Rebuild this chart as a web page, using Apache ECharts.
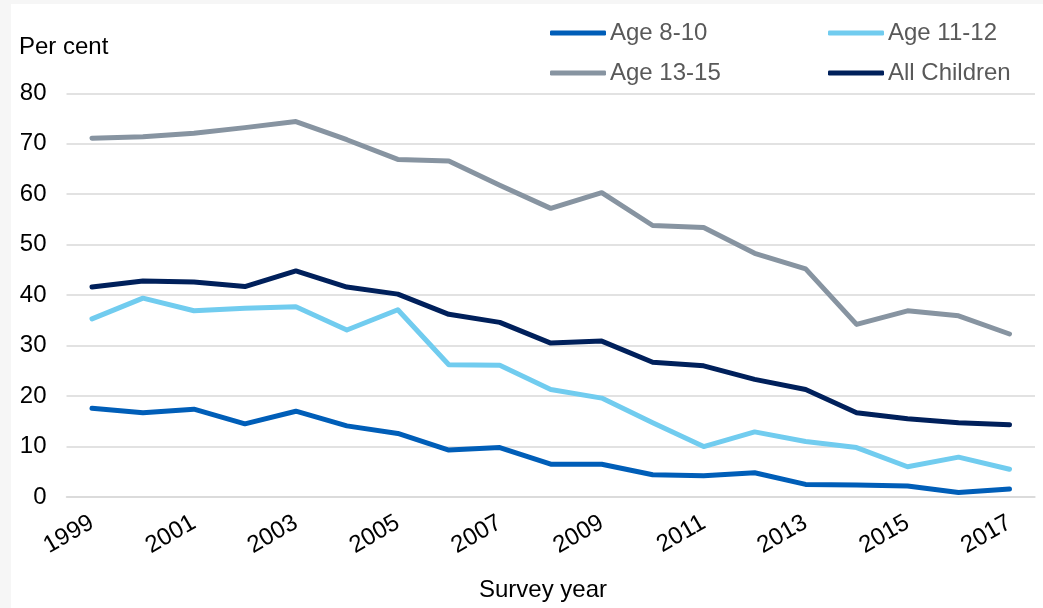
<!DOCTYPE html>
<html>
<head>
<meta charset="utf-8">
<script src="https://cdn.jsdelivr.net/npm/echarts@6/dist/echarts.min.js"></script>
<style>
html,body{margin:0;padding:0;background:#f6f6f6;width:1043px;height:608px;overflow:hidden;}
#chart{position:absolute;left:11px;top:4px;width:1032px;height:604px;background:#ffffff;}
</style>
</head>
<body>
<div id="chart"></div>
<script>
var years = ['1999','2000','2001','2002','2003','2004','2005','2006','2007','2008','2009','2010','2011','2012','2013','2014','2015','2016','2017'];
var age8to10 = [17.6,16.7,17.4,14.5,17.0,14.1,12.6,9.3,9.8,6.5,6.5,4.4,4.2,4.8,2.5,2.4,2.2,0.9,1.6];
var age11to12 = [35.3,39.4,36.9,37.4,37.7,33.1,37.1,26.2,26.1,21.3,19.6,14.7,10.0,12.9,11.0,9.8,6.0,7.9,5.5];
var age13to15 = [71.1,71.4,72.1,73.2,74.4,70.8,66.9,66.6,61.8,57.2,60.3,53.8,53.4,48.3,45.2,34.2,36.9,35.9,32.3];
var allChildren = [41.6,42.8,42.6,41.7,44.8,41.6,40.2,36.2,34.6,30.5,30.9,26.7,26.0,23.3,21.3,16.7,15.5,14.7,14.3];
var seriesNames = ['Age 8-10','Age 11-12','Age 13-15','All Children'];
var yTicks = [0,10,20,30,40,50,60,70,80];

var FONT = '"Liberation Sans", Arial, sans-serif';
var colors = ['#005EB8','#71CCEF','#8794A1','#00205B'];
var dataSets = [age8to10, age11to12, age13to15, allChildren];

var chart = echarts.init(document.getElementById('chart'));
var legendCommon = {
  icon: 'roundRect',
  itemWidth: 56,
  itemHeight: 5,
  itemGap: 68,
  orient: 'horizontal',
  left: 539,
  width: 700,
  padding: 0,
  textStyle: {fontFamily: FONT, fontSize: 24, color: '#595959', width: 150, lineHeight: 26, padding: [0,0,0,-1]}
};
chart.setOption({
  animation: false,
  color: colors,
  textStyle: {fontFamily: FONT},
  legend: [
    Object.assign({}, legendCommon, {top: 16, data: [seriesNames[0], seriesNames[1]]}),
    Object.assign({}, legendCommon, {top: 56, data: [seriesNames[2], seriesNames[3]]})
  ],
  grid: {left: 55.5, right: 8, top: 89.3, bottom: 111, containLabel: false},
  xAxis: {
    type: 'category',
    data: years,
    boundaryGap: true,
    axisLine: {show: true, lineStyle: {color: '#d9d9d9', width: 1.5}},
    axisTick: {show: false},
    axisLabel: {interval: 1, rotate: 30, margin: 24, fontSize: 24, color: '#000000', fontFamily: FONT}
  },
  yAxis: {
    type: 'value',
    min: 0, max: 80, interval: 10,
    axisLine: {show: false},
    axisTick: {show: false},
    splitLine: {lineStyle: {color: '#d9d9d9', width: 1.5}},
    axisLabel: {margin: 20, fontSize: 24, color: '#000000', fontFamily: FONT,
      formatter: function(v){ return yTicks.indexOf(v) >= 0 ? String(v) : ''; }}
  },
  graphic: [
    {type: 'text', left: 8, top: 31, style: {text: 'Per cent', font: '24px ' + FONT, fill: '#000000'}},
    {type: 'text', x: 532, y: 586, style: {text: 'Survey year', font: '24px ' + FONT, fill: '#000000', textAlign: 'center', textVerticalAlign: 'middle'}}
  ],
  series: seriesNames.map(function(n, i){
    return {
      name: n,
      type: 'line',
      data: dataSets[i],
      symbol: 'none',
      lineStyle: {width: 5, color: colors[i], cap: 'round', join: 'round'},
      itemStyle: {color: colors[i]},
      z: 2 + i
    };
  })
});
</script>
</body>
</html>
